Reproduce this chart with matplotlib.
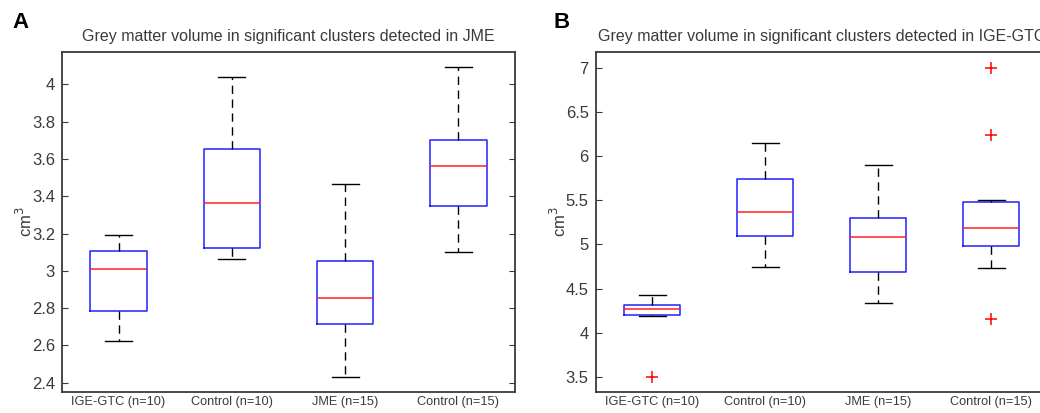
import matplotlib
matplotlib.use("Agg")
import matplotlib.pyplot as plt

plt.rcParams['font.family'] = ['Liberation Sans', 'DejaVu Sans']

groups = ["IGE-GTC (n=10)", "Control (n=10)", "JME (n=15)", "Control (n=15)"]

# Panel A: clusters detected in JME
a_whislo = [2.623, 3.066, 2.432, 3.103]
a_q1 = [2.786, 3.121, 2.716, 3.348]
a_med = [3.011, 3.364, 2.852, 3.561]
a_q3 = [3.109, 3.654, 3.053, 3.700]
a_whishi = [3.190, 4.040, 3.466, 4.091]
a_fliers = [[], [], [], []]
a_ticks = [2.4, 2.6, 2.8, 3.0, 3.2, 3.4, 3.6, 3.8, 4.0]
a_ticklabels = ["2.4", "2.6", "2.8", "3", "3.2", "3.4", "3.6", "3.8", "4"]

# Panel B: clusters detected in IGE-GTC
b_whislo = [4.19, 4.74, 4.335, 4.729]
b_q1 = [4.202, 5.098, 4.691, 4.980]
b_med = [4.267, 5.371, 5.084, 5.189]
b_q3 = [4.312, 5.738, 5.303, 5.474]
b_whishi = [4.430, 6.147, 5.898, 5.503]
b_fliers = [[3.50], [], [], [4.154, 6.233, 6.99]]
b_ticks = [3.5, 4.0, 4.5, 5.0, 5.5, 6.0, 6.5, 7.0]
b_ticklabels = ["3.5", "4", "4.5", "5", "5.5", "6", "6.5", "7"]

DARK = "#3a3a3a"


def make_stats(lo, q1, med, q3, hi, fl):
    return [dict(whislo=a, q1=b, med=c, q3=d, whishi=e, fliers=f)
            for a, b, c, d, e, f in zip(lo, q1, med, q3, hi, fl)]


def draw_panel(ax, stats, ylim, ticks, ticklabels, title, letter, letter_x):
    ax.bxp(stats, positions=[1, 2, 3, 4], widths=0.5, capwidths=0.24,
           boxprops=dict(color="#2020ff", linewidth=1.1),
           medianprops=dict(color="#ff2020", linewidth=1.1),
           whiskerprops=dict(color="black", linewidth=1.0, linestyle=(0, (6, 4))),
           capprops=dict(color="black", linewidth=1.0),
           flierprops=dict(marker="+", markeredgecolor="#ff0000",
                           markersize=8, markeredgewidth=1.1, linestyle="none"))
    ax.set_xlim(0.5, 4.5)
    ax.set_ylim(*ylim)
    ax.set_xticks([1, 2, 3, 4])
    ax.set_xticklabels(groups, fontsize=9.2, color=DARK)
    ax.set_yticks(ticks)
    ax.set_yticklabels(ticklabels, fontsize=12, color=DARK)
    ax.tick_params(axis="x", length=0, pad=3)
    ax.tick_params(axis="y", direction="in", length=4, left=True, right=True,
                   color=DARK, pad=5)
    for sp in ax.spines.values():
        sp.set_color(DARK)
        sp.set_linewidth(1.3)
    ax.set_ylabel("cm$^3$", fontsize=12, color=DARK, labelpad=-2)
    ax.set_title(title, fontsize=11.5, color=DARK, pad=8)
    fig.text(letter_x, 0.945, letter, fontsize=16, fontweight="bold",
             color="black", ha="left", va="center")


fig = plt.figure(figsize=(10.4, 4.13), dpi=100)
axA = fig.add_axes([0.0596, 0.0508, 0.4356, 0.823])
axB = fig.add_axes([0.5728, 0.0508, 0.4346, 0.823])

draw_panel(axA, make_stats(a_whislo, a_q1, a_med, a_q3, a_whishi, a_fliers),
           (2.35, 4.173), a_ticks, a_ticklabels,
           "Grey matter volume in significant clusters detected in JME", "A", 0.012)
draw_panel(axB, make_stats(b_whislo, b_q1, b_med, b_q3, b_whishi, b_fliers),
           (3.33, 7.174), b_ticks, b_ticklabels,
           "Grey matter volume in significant clusters detected in IGE-GTC", "B", 0.532)

fig.savefig("out.png", dpi=100)
